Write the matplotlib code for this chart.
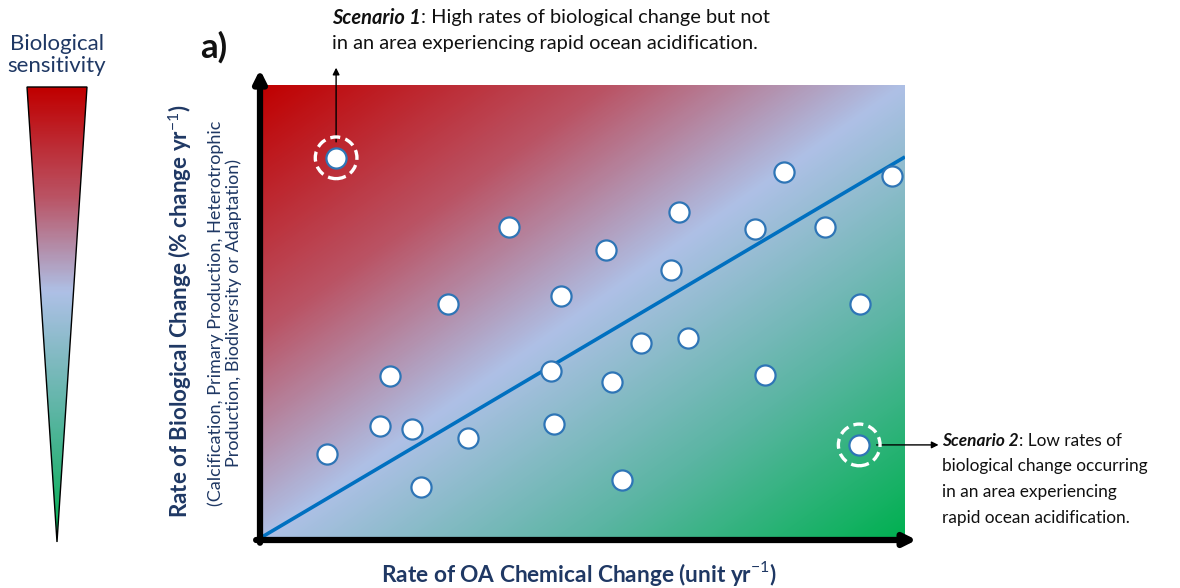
import numpy as np
import matplotlib
matplotlib.use("Agg")
import matplotlib.pyplot as plt
from matplotlib.colors import LinearSegmentedColormap
from matplotlib.patches import Polygon

# ---------------- data ----------------
x_vals = [11.8, 10.4, 18.6, 20.2, 23.6, 25.0, 29.1, 32.2, 38.6, 45.1, 45.6, 46.7, 53.6,
          54.6, 56.1, 59.1, 63.7, 65.0, 66.4, 76.7, 78.3, 81.2, 87.6, 93.0, 92.9, 98.0]
y_vals = [84.0, 18.9, 25.1, 36.0, 24.4, 11.6, 51.9, 22.4, 68.8, 37.1, 25.5, 53.6, 63.7,
          34.7, 13.2, 43.3, 59.3, 72.1, 44.4, 68.4, 36.3, 80.9, 68.8, 51.9, 20.9, 80.0]
scenario_idx = [0, 24]
line_x = [0, 100]
line_y = [0.4, 84.2]

xlabel = "Rate of OA Chemical Change (unit yr$^{-1}$)"
ylabel = "Rate of Biological Change (% change yr$^{-1}$)"
ysub = "(Calcification, Primary Production, Heterotrophic\nProduction, Biodiversity or Adaptation)"
sens_title = "Biological\nsensitivity"
panel = "a)"
s1_bold = "Scenario 1"
s1_rest = [": High rates of biological change but not",
           "in an area experiencing rapid ocean acidification."]
s2_bold = "Scenario 2"
s2_rest = [": Low rates of", "biological change occurring",
           "in an area experiencing", "rapid ocean acidification."]

# ---------------- style ----------------
W, H = 1180, 588
NAVY = "#1F3864"
FONT = "Lato"
plt.rcParams['font.family'] = [FONT, 'DejaVu Sans']
plt.rcParams['mathtext.fontset'] = 'custom'
plt.rcParams['mathtext.rm'] = FONT
plt.rcParams['mathtext.bf'] = FONT + ':bold'

cmap = LinearSegmentedColormap.from_list(
    "sens", [(0.0, "#C00000"), (0.27, "#BA5364"), (0.5, "#AEC0E6"),
             (0.75, "#5BB5A3"), (1.0, "#00B050")])
cmap_tri = LinearSegmentedColormap.from_list(
    "tri", [(0.0, "#C00000"), (0.24, "#BA5364"), (0.45, "#AEC0E6"),
            (0.72, "#5BB5A3"), (1.0, "#00B050")])

fig = plt.figure(figsize=(W / 100, H / 100), dpi=100)


def fx(px):
    return px / W


def fy(py):
    return 1 - py / H


# ---------------- main axes ----------------
ax = fig.add_axes([fx(260), fy(540), 645 / W, 455 / H])
ax.set_xlim(0, 100)
ax.set_ylim(0, 100)
u = np.linspace(0, 1, 400)
v = np.linspace(0, 1, 400)
U, V = np.meshgrid(u, v)
T = (U + (1 - V)) / 2
ax.imshow(T, extent=[0, 100, 100, 0], aspect='auto', cmap=cmap, vmin=0, vmax=1,
          interpolation='bilinear', zorder=0)
ax.set_ylim(0, 100)
for s in ax.spines.values():
    s.set_visible(False)
ax.set_xticks([])
ax.set_yticks([])

ax.plot(line_x, line_y, color="#0070C0", lw=2.6, zorder=2, solid_capstyle='butt')
ax.scatter(x_vals, y_vals, s=210, facecolor='white', edgecolor='#2E75B6',
           linewidth=1.6, zorder=3)
sx = [x_vals[i] for i in scenario_idx]
sy = [y_vals[i] for i in scenario_idx]
ax.scatter(sx, sy, s=900, facecolor='none', edgecolor='white', linewidth=2.4,
           linestyle=(0, (3.0, 1.6)), zorder=4)

# axis arrows
ax.annotate("", xy=(1.018, 0.0), xytext=(-0.006, 0.0), xycoords='axes fraction',
            arrowprops=dict(arrowstyle='-|>', lw=4.5, color='black', mutation_scale=18,
                            shrinkA=0, shrinkB=0), annotation_clip=False)
ax.annotate("", xy=(0.0, 1.034), xytext=(0.0, -0.006), xycoords='axes fraction',
            arrowprops=dict(arrowstyle='-|>', lw=4.5, color='black', mutation_scale=18,
                            shrinkA=0, shrinkB=0), annotation_clip=False)

# scenario arrows
ax.annotate("", xy=(x_vals[0], 103.8), xytext=(x_vals[0], 87.5),
            arrowprops=dict(arrowstyle='-|>', lw=1.0, color='black', mutation_scale=10,
                            shrinkA=0, shrinkB=0), annotation_clip=False)
ax.annotate("", xy=(105.2, y_vals[24]), xytext=(95.6, y_vals[24]),
            arrowprops=dict(arrowstyle='-|>', lw=1.0, color='black', mutation_scale=10,
                            shrinkA=0, shrinkB=0), annotation_clip=False)

# ---------------- labels ----------------
fig.text(fx(579), fy(574), xlabel, ha='center', va='center', fontsize=16.3,
         fontweight='bold', color=NAVY)
fig.text(fx(180), fy(311), ylabel, ha='center', va='center', fontsize=16.1,
         fontweight='bold', color=NAVY, rotation=90)
fig.text(fx(225), fy(313), ysub, ha='center', va='center', fontsize=13,
         color=NAVY, rotation=90, linespacing=1.1)
fig.text(fx(214), fy(47), panel, ha='center', va='center', fontsize=25,
         fontweight='bold', color='#111111')
fig.text(fx(57), fy(55), sens_title, ha='center', va='center', fontsize=16,
         color=NAVY, linespacing=1.17)

# ---------------- triangle ----------------
tax = fig.add_axes([0, 0, 1, 1])
tax.set_xlim(0, W)
tax.set_ylim(H, 0)
tax.axis('off')
tri = Polygon([(27, 87), (87, 87), (57, 542)], closed=True, facecolor='none',
              edgecolor='black', lw=1.0, zorder=3)
tax.add_patch(tri)
grad = np.linspace(0, 1, 300).reshape(-1, 1)
im = tax.imshow(grad, extent=[27, 87, 542, 87], aspect='auto', cmap=cmap_tri,
                vmin=0, vmax=1, zorder=2)
im.set_clip_path(tri)
tax.set_xlim(0, W)
tax.set_ylim(H, 0)

# ---------------- scenario texts ----------------
fig.canvas.draw()
renderer = fig.canvas.get_renderer()


def mixed(x0, y0, bold, rest_lines, dy, size=13):
    t = fig.text(fx(x0), fy(y0), bold, ha='left', va='center', fontsize=size,
                 fontweight='bold', fontstyle='italic', color='#111111')
    bb = t.get_window_extent(renderer)
    fig.text(bb.x1 / W, fy(y0), rest_lines[0], ha='left', va='center', fontsize=size,
             color='#111111')
    for k, line in enumerate(rest_lines[1:], start=1):
        fig.text(fx(x0), fy(y0 + k * dy), line, ha='left', va='center', fontsize=size,
                 color='#111111')


mixed(332, 18, s1_bold, s1_rest, 25, size=14.4)
mixed(942, 441, s2_bold, s2_rest, 25.5, size=12.4)

fig.savefig("out.png", dpi=100)
